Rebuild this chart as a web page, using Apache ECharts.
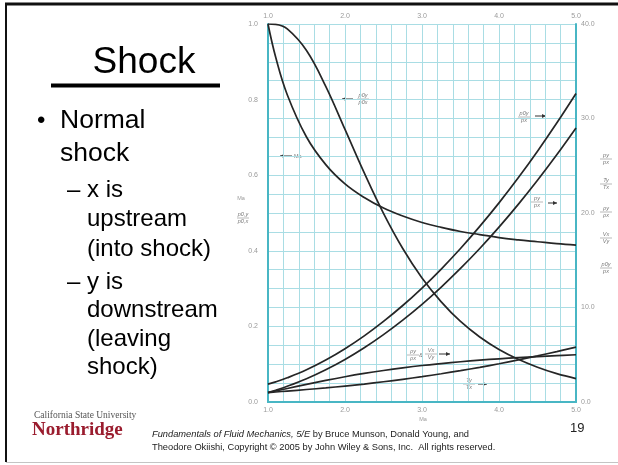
<!DOCTYPE html>
<html><head><meta charset="utf-8">
<script src="https://cdn.jsdelivr.net/npm/echarts@6/dist/echarts.min.js"></script>
<style>html,body{margin:0;padding:0;background:#fff}#c{width:618px;height:465px}</style>
</head><body><div id="c"></div>
<script>
// Upstream Mach number Ma_x
const machX = [1.0, 1.1, 1.25, 1.5, 1.75, 2.0, 2.25, 2.5, 2.75, 3.0, 3.25, 3.5, 3.75, 4.0, 4.25, 4.5, 4.75, 5.0];
// left axis (0 - 1)
const machY = [1.0, 0.912, 0.813, 0.701, 0.628, 0.577, 0.541, 0.513, 0.492, 0.475, 0.462, 0.451, 0.443, 0.435, 0.429, 0.424, 0.419, 0.415];
const p0yOverP0x = [1.0, 0.999, 0.987, 0.930, 0.835, 0.721, 0.606, 0.499, 0.406, 0.328, 0.265, 0.213, 0.172, 0.139, 0.113, 0.092, 0.075, 0.062];
// right axis (0 - 40)
const p0yOverPx = [1.89, 2.13, 2.56, 3.41, 4.44, 5.64, 7.00, 8.53, 10.21, 12.06, 14.07, 16.24, 18.58, 21.07, 23.72, 26.54, 29.52, 32.65];
const pyOverPx = [1.0, 1.25, 1.66, 2.46, 3.41, 4.50, 5.74, 7.13, 8.66, 10.33, 12.16, 14.13, 16.24, 18.50, 20.91, 23.46, 26.16, 29.0];
const rhoYOverRhoX = [1.0, 1.17, 1.43, 1.86, 2.28, 2.67, 3.02, 3.33, 3.61, 3.86, 4.07, 4.26, 4.43, 4.57, 4.70, 4.81, 4.91, 5.0];
const tyOverTx = [1.0, 1.06, 1.16, 1.32, 1.49, 1.69, 1.90, 2.14, 2.40, 2.68, 2.99, 3.32, 3.67, 4.05, 4.45, 4.88, 5.33, 5.80];
// tick labels
const xTickLabels = ['1.0', '2.0', '3.0', '4.0', '5.0'];
const leftTickLabels = ['0.0', '0.2', '0.4', '0.6', '0.8', '1.0'];
const rightTickLabels = ['0.0', '10.0', '20.0', '30.0', '40.0'];

const pairs = ys => machX.map((x, i) => [x, ys[i]]);
const pick = list => v => { for (const s of list) { if (Math.abs(parseFloat(s) - v) < 1e-6) return s; } return ''; };

const GRID = '#a9dde4', AXIS = '#48b6c4', LBL = '#9a9a9a', CURVE = '#262626';
const FS = '"Liberation Sans", Arial, sans-serif';

function line(name, ys, yAxisIndex) {
  return { name, type: 'line', data: pairs(ys), yAxisIndex, smooth: 0.4, showSymbol: false, silent: true,
    lineStyle: { color: CURVE, width: 1.7 } };
}
function txt(x, y, s, size, opt) {
  return Object.assign({ type: 'text', x, y, silent: true,
    style: Object.assign({ text: s, font: size + 'px ' + FS, fill: '#000', verticalAlign: 'middle', align: 'left' }, opt || {}) });
}
function frac(x, y, num, den) {
  return [
    { type: 'text', x, y: y - 3.5, style: { text: num, font: 'italic 5.5px ' + FS, fill: '#7a7a7a', align: 'center', verticalAlign: 'middle' } },
    { type: 'line', shape: { x1: x - 6, y1: y, x2: x + 6, y2: y }, style: { stroke: '#8a8a8a', lineWidth: 0.6 } },
    { type: 'text', x, y: y + 3.8, style: { text: den, font: 'italic 5.5px ' + FS, fill: '#7a7a7a', align: 'center', verticalAlign: 'middle' } }
  ];
}
function arrow(x1, x2, y) {
  const dir = x2 > x1 ? 1 : -1;
  return [
    { type: 'line', shape: { x1, y1: y, x2, y2: y }, style: { stroke: '#333', lineWidth: 1 } },
    { type: 'polygon', shape: { points: [[x2, y], [x2 - dir * 4, y - 2], [x2 - dir * 4, y + 2]] }, style: { fill: '#333' } }
  ];
}

const chart = echarts.init(document.getElementById('c'), null, { renderer: 'canvas' });

let graphics = [];
// slide frame
graphics.push({ type: 'line', shape: { x1: 5, y1: 4, x2: 618, y2: 4 }, style: { stroke: '#111', lineWidth: 3 } });
graphics.push({ type: 'line', shape: { x1: 6, y1: 3, x2: 6, y2: 462 }, style: { stroke: '#111', lineWidth: 2 } });
graphics.push({ type: 'line', shape: { x1: 6, y1: 462.5, x2: 618, y2: 462.5 }, style: { stroke: '#c4c4c4', lineWidth: 1 } });
// title + bullets
graphics.push(txt(144, 63, 'Shock', 37, { align: 'center' }));
graphics.push({ type: 'line', shape: { x1: 51, y1: 85.5, x2: 220, y2: 85.5 }, style: { stroke: '#000', lineWidth: 4 } });
graphics.push(txt(37, 121, '•', 24));
graphics.push(txt(60, 121, 'Normal', 26.5));
graphics.push(txt(60, 154, 'shock', 26.5));
graphics.push(txt(67, 190, '–', 24));
graphics.push(txt(87, 190, 'x is', 24));
graphics.push(txt(87, 219, 'upstream', 24));
graphics.push(txt(87, 249, '(into shock)', 24));
graphics.push(txt(67, 282, '–', 24));
graphics.push(txt(87, 282, 'y is', 24));
graphics.push(txt(87, 310, 'downstream', 24));
graphics.push(txt(87, 339, '(leaving', 24));
graphics.push(txt(87, 367, 'shock)', 24));
// footer
graphics.push(txt(34, 415, 'California State University', 9.5, { font: '9.5px "Liberation Serif", serif', fill: '#555' }));
graphics.push(txt(32, 430, 'Northridge', 19, { font: 'bold 19px "Liberation Serif", serif', fill: '#9a1c2e' }));
graphics.push({ type: 'text', x: 152, y: 434, silent: true, style: {
  text: '{i|Fundamentals of Fluid Mechanics, 5/E} by Bruce Munson, Donald Young, and',
  font: '9.3px ' + FS, fill: '#222', verticalAlign: 'middle',
  rich: { i: { fontStyle: 'italic', fontSize: 9.3, fontFamily: FS, fill: '#222' } } } });
graphics.push(txt(152, 447, 'Theodore Okiishi, Copyright © 2005 by John Wiley & Sons, Inc.  All rights reserved.', 9.3, { fill: '#222' }));
graphics.push(txt(570, 428, '19', 13, { fill: '#222' }));
// axis titles and curve labels
graphics.push(txt(423, 419, 'Ma', 5.5, { fill: LBL, align: 'center', font: '5.5px ' + FS }));
graphics.push(txt(241, 198, 'Ma', 5.5, { fill: LBL, align: 'center', font: '5.5px ' + FS }));
graphics = graphics.concat(frac(243, 218, 'p0,y', 'p0,x'));
graphics = graphics.concat(arrow(353, 342, 99), frac(363, 99, 'p0y', 'p0x'));
graphics = graphics.concat(arrow(292, 280, 156));
graphics.push(txt(294, 156, 'Ma', 5.5, { fill: '#7a7a7a', font: '5.5px ' + FS }));
graphics = graphics.concat(frac(524, 117, 'p0y', 'px'), arrow(535, 546, 116));
graphics = graphics.concat(frac(537, 202, 'py', 'px'), arrow(548, 557, 203));
graphics = graphics.concat(frac(413, 355, 'ρy', 'ρx'));
graphics.push(txt(419, 355, '&', 6, { fill: '#7a7a7a', font: '6px ' + FS }));
graphics = graphics.concat(frac(431, 354, 'Vx', 'Vy'), arrow(439, 450, 354));
graphics = graphics.concat(frac(469, 384, 'Ty', 'Tx'), arrow(478, 487, 384));
// right side legend of right axis
graphics = graphics.concat(frac(606, 159, 'py', 'px'), frac(606, 184, 'Ty', 'Tx'), frac(606, 212, 'ρy', 'ρx'),
  frac(606, 238, 'Vx', 'Vy'), frac(606, 268, 'p0y', 'px'));

const axLine = { show: true, lineStyle: { color: AXIS, width: 2 } };
const lbl = { color: LBL, fontSize: 7, fontFamily: FS };

chart.setOption({
  animation: false,
  backgroundColor: '#fff',
  grid: { left: 268, top: 24, width: 308, height: 378, containLabel: false },
  xAxis: [
    { type: 'value', min: 1, max: 5, interval: 0.2, position: 'bottom', axisLine: axLine, axisTick: { show: false },
      axisLabel: Object.assign({ formatter: pick(xTickLabels), margin: 5, showMinLabel: true, showMaxLabel: true }, lbl),
      splitLine: { show: true, lineStyle: { color: GRID, width: 1 } } },
    { type: 'value', min: 1, max: 5, interval: 0.2, position: 'top', axisLine: axLine, axisTick: { show: false },
      axisLabel: Object.assign({ formatter: pick(xTickLabels), margin: 4 }, lbl), splitLine: { show: false } }
  ],
  yAxis: [
    { type: 'value', min: 0, max: 1, interval: 0.05, position: 'left', axisLine: axLine, axisTick: { show: false },
      axisLabel: Object.assign({ formatter: pick(leftTickLabels), margin: 10 }, lbl),
      splitLine: { show: true, lineStyle: { color: GRID, width: 1 } } },
    { type: 'value', min: 0, max: 40, interval: 2, position: 'right', axisLine: axLine, axisTick: { show: false },
      axisLabel: Object.assign({ formatter: pick(rightTickLabels), margin: 5 }, lbl), splitLine: { show: false } }
  ],
  series: [
    line('Ma_y', machY, 0),
    line('p0y/p0x', p0yOverP0x, 0),
    line('p0y/px', p0yOverPx, 1),
    line('py/px', pyOverPx, 1),
    line('rho_y/rho_x = Vx/Vy', rhoYOverRhoX, 1),
    line('Ty/Tx', tyOverTx, 1)
  ],
  graphic: graphics
});
</script></body></html>
